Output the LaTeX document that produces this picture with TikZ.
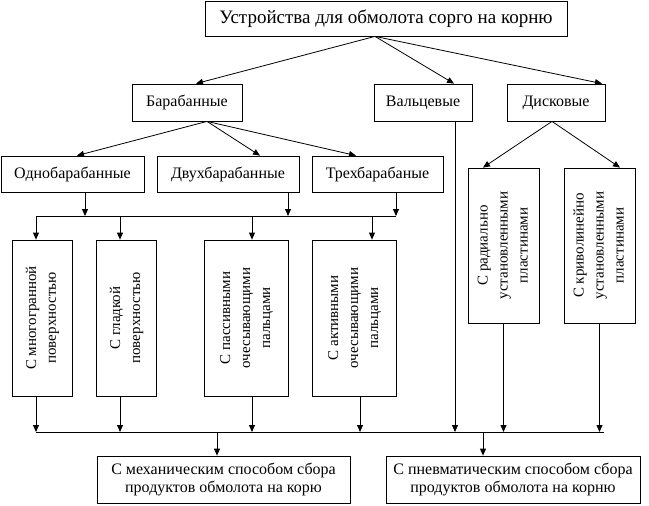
\documentclass[tikz,border=0pt]{standalone}
\usepackage{fontspec}
\setmainfont{Liberation Serif}
\usetikzlibrary{arrows.meta}
\newcommand\vlab[1]{\rotatebox{90}{\fontsize{15}{20}\selectfont\begin{tabular}{@{}c@{}}#1\end{tabular}}}
\begin{document}
\begin{tikzpicture}[x=1pt,y=-1pt,
  box/.style={draw, line width=0.8pt, inner sep=0pt, align=center, font=\fontsize{16}{18.5}\selectfont},
  arr/.style={line width=0.8pt, -{Triangle[length=7pt,width=6pt]}},
  ln/.style={line width=0.8pt}]
\useasboundingbox (0,0) rectangle (649,506);
% nodes
\node[box, minimum width=362pt, minimum height=35pt, font=\fontsize{19}{22}\selectfont] (top) at (386,18.5) {Устройства для обмолота сорго на корню};
\node[box, minimum width=110pt, minimum height=37pt] (bar) at (187,102.5) {Барабанные};
\node[box, minimum width=98pt, minimum height=37pt] (val) at (423,102.5) {Вальцевые};
\node[box, minimum width=98pt, minimum height=37pt] (dis) at (556,102.5) {Дисковые};
\node[box, minimum width=143pt, minimum height=36pt] (odno) at (72.5,174) {Однобарабанные};
\node[box, minimum width=142pt, minimum height=36pt] (dvukh) at (228,174) {Двухбарабанные};
\node[box, minimum width=131pt, minimum height=36pt] (trekh) at (377.5,174) {Трехбарабаные};
\node[box, minimum width=60pt, minimum height=156pt] (v1) at (42,318) {\vlab{С многогранной\\поверхностью}};
\node[box, minimum width=60pt, minimum height=156pt] (v2) at (126,318) {\vlab{С гладкой\\поверхностью}};
\node[box, minimum width=84pt, minimum height=156pt] (v3) at (246,318) {\vlab{С пассивными\\очесывающими\\пальцами}};
\node[box, minimum width=84pt, minimum height=156pt] (v4) at (354,318) {\vlab{С активными\\очесывающими\\пальцами}};
\node[box, minimum width=71pt, minimum height=155pt] (rad) at (503.5,245.5) {\vlab{С радиально\\установленными\\пластинами}};
\node[box, minimum width=71pt, minimum height=155pt] (cur) at (599.5,245.5) {\vlab{С криволинейно\\установленными\\пластинами}};
\node[box, minimum width=253pt, minimum height=47pt] (mech) at (223.5,479.5) {С механическим способом сбора\\продуктов обмолота на корю};
\node[box, minimum width=254pt, minimum height=47pt] (pneu) at (513,479.5) {С пневматическим способом сбора\\продуктов обмолота на корню};
\coordinate (h1) at (0,216);
\coordinate (h2) at (0,432);
% level 1
\draw[arr] ([xshift=-11pt]top.south) -- ([xshift=9pt]bar.north);
\draw[arr] ([xshift=-11pt]top.south) -- ([xshift=31pt]val.north);
\draw[arr] ([xshift=-11pt]top.south) -- ([xshift=46pt]dis.north);
% level 2
\draw[arr] ([xshift=20pt]bar.south) -- ([xshift=4.5pt]odno.north);
\draw[arr] ([xshift=20pt]bar.south) -- ([xshift=32pt]dvukh.north);
\draw[arr] ([xshift=20pt]bar.south) -- ([xshift=-21.5pt]trekh.north);
\draw[arr] ([xshift=-4pt]dis.south) -- ([xshift=-20.5pt]rad.north);
\draw[arr] ([xshift=-4pt]dis.south) -- ([xshift=20.5pt]cur.north);
% to junction 1
\draw[arr] ([xshift=12.5pt]odno.south) -- ([xshift=12.5pt]odno.south |- h1);
\draw[arr] ([xshift=60pt]dvukh.south) -- ([xshift=60pt]dvukh.south |- h1);
\draw[arr] ([xshift=18.5pt]trekh.south) -- ([xshift=18.5pt]trekh.south |- h1);
\draw[ln] ([xshift=-6pt]v1.north |- h1) -- ([xshift=18.5pt]trekh.south |- h1);
\draw[arr] ([xshift=-6pt]v1.north |- h1) -- ([xshift=-6pt]v1.north);
\draw[arr] ([xshift=-6pt]v2.north |- h1) -- ([xshift=-6pt]v2.north);
\draw[arr] ([xshift=6pt]v3.north |- h1) -- ([xshift=6pt]v3.north);
\draw[arr] ([xshift=18pt]v4.north |- h1) -- ([xshift=18pt]v4.north);
% to junction 2
\draw[arr] ([xshift=-6pt]v1.south) -- ([xshift=-6pt]v1.south |- h2);
\draw[arr] ([xshift=-6pt]v2.south) -- ([xshift=-6pt]v2.south |- h2);
\draw[arr] ([xshift=6pt]v3.south) -- ([xshift=6pt]v3.south |- h2);
\draw[arr] ([xshift=6pt]v4.south) -- ([xshift=6pt]v4.south |- h2);
\draw[arr] ([xshift=32pt]val.south) -- ([xshift=32pt]val.south |- h2);
\draw[arr] (rad.south) -- (rad.south |- h2);
\draw[arr] (cur.south) -- (cur.south |- h2);
\draw[ln] ([xshift=-6pt]v1.south |- h2) -- ([xshift=4pt]cur.south |- h2);
\draw[arr] ([xshift=-6.5pt]mech.north |- h2) -- ([xshift=-6.5pt]mech.north);
\draw[arr] ([xshift=-30pt]pneu.north |- h2) -- ([xshift=-30pt]pneu.north);
\end{tikzpicture}
\end{document}
